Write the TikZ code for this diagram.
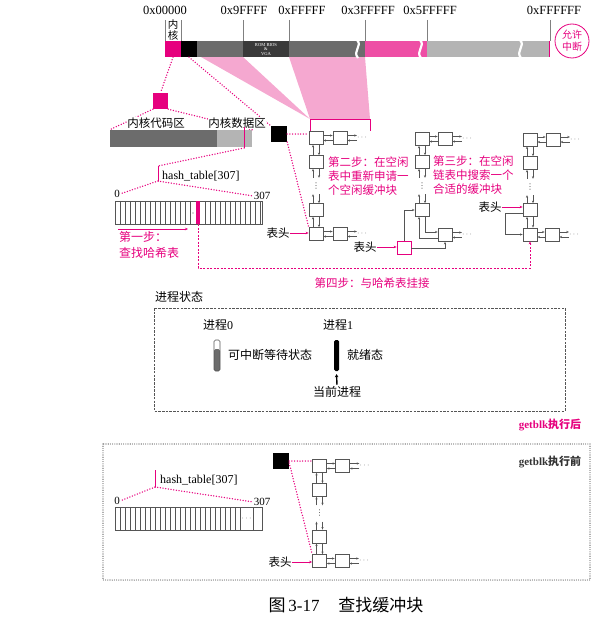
\documentclass[tikz,border=0pt]{standalone}
\usepackage{fontspec}
\setmainfont{Liberation Serif}
\newfontfamily\cjk{Noto Sans CJK SC}
\newfontfamily\symf{DejaVu Sans}
\usetikzlibrary{arrows.meta}
\definecolor{mag}{RGB}{230,0,126}
\definecolor{magmid}{RGB}{238,78,165}
\definecolor{fanpink}{RGB}{245,168,208}
\definecolor{bardark}{RGB}{108,108,108}
\definecolor{barrom}{RGB}{58,58,58}
\definecolor{barlight}{RGB}{180,180,180}
\definecolor{linkgray}{RGB}{85,85,85}
\begin{document}
\begin{tikzpicture}[x=1pt,y=-1pt,
  buf/.style={draw=linkgray, fill=white, line width=0.7pt, minimum width=14pt, minimum height=13pt, inner sep=0pt},
  hbuf/.style={buf, draw=mag},
  lnk/.style={draw=linkgray, line width=0.6pt, -{Stealth[length=2.6pt,width=2.2pt]}},
  dotsh/.style={inner sep=0pt, minimum width=9pt, text=linkgray, font=\fontsize{8}{8}\selectfont},
  dotsv/.style={inner sep=0pt, minimum height=16pt, text=linkgray, font=\fontsize{8}{8}\selectfont\symf},
  lbl/.style={inner sep=0pt, font=\fontsize{11.5}{14}\selectfont\cjk},
  latin/.style={inner sep=0pt, font=\fontsize{12}{14}\selectfont},
  stepnote/.style={inner sep=0pt, align=left, text=mag, font=\fontsize{11.5}{14}\selectfont\cjk},
  pinkdot/.style={draw=mag, line width=1.5pt, dash pattern=on 0pt off 2.7pt, line cap=round},
  pinkdash/.style={draw=mag, line width=0.8pt, dash pattern=on 2pt off 1.5pt},
  magline/.style={draw=mag, line width=1pt},
  headarr/.style={draw=mag, line width=0.8pt, -{Stealth[length=3pt,width=2.5pt]}},
  barseg/.style={inner sep=0pt, minimum height=16pt}]
\useasboundingbox (0,0) rectangle (614,618);

% memory map
\fill[fanpink] (201,57) -- (243,57) -- (310,119) -- cycle;
\fill[fanpink] (289,57) -- (365,57) -- (370,119) -- (310,119) -- cycle;
\draw[mag, line width=0.9pt] (310,131) -- (310,119) -- (370,119) -- (370,131);
\node[barseg, fill=mag, minimum width=16pt] (kcodebar) at (173,49) {};
\node[barseg, fill=black, minimum width=16pt] (kdatabar) at (189,49) {};
\fill[bardark] (197,41) rectangle (243,57);
\fill[barrom] (243,41) rectangle (289,57);
\fill[bardark] (289,41) rectangle (365,57);
\fill[magmid] (365,41) rectangle (427,57);
\fill[barlight] (427,41) rectangle (550,57);
\draw[mag, line width=0.8pt] (549.5,41) -- (549.5,57);
\foreach \x in {357,420,520}
  \draw[white, line width=2.2pt] (\x,40) .. controls (\x+6,46) and (\x-5,51) .. (\x+1,58);
\node[text=white, align=center, inner sep=0pt, font=\fontsize{4.6}{4.4}\selectfont] at (266,49.5) {ROM BIOS\\\&\\VGA};
\foreach \x in {165,181,243,289,365,427,550}
  \draw[gray, line width=0.4pt] (\x,20) -- (\x,41);
\node[latin, font=\fontsize{12.5}{14}\selectfont] at (165,10) {0x00000};
\node[latin, font=\fontsize{12.5}{14}\selectfont] at (244,10) {0x9FFFF};
\node[latin, font=\fontsize{12.5}{14}\selectfont] at (302,10) {0xFFFFF};
\node[latin, font=\fontsize{12.5}{14}\selectfont] at (368,10) {0x3FFFFF};
\node[latin, font=\fontsize{12.5}{14}\selectfont] at (430,10) {0x5FFFFF};
\node[latin, font=\fontsize{12.5}{14}\selectfont] at (554,10) {0xFFFFFF};
\node[lbl, font=\fontsize{10.5}{11}\selectfont\cjk, align=center] at (173,30) {内\\核};
\node[circle, draw=mag, line width=0.8pt, minimum size=34pt, inner sep=0pt, align=center, text=mag,
  font=\fontsize{10}{12}\selectfont\cjk] (intr) at (572,41) {允许\\中断};

% kernel area
\node[fill=mag, minimum width=15pt, minimum height=16pt, inner sep=0pt] (kcode) at (160.5,101) {};
\node[fill=black, minimum size=16pt, inner sep=0pt] (blk) at (279,134) {};
\node[fill=bardark, minimum width=107pt, minimum height=17pt, inner sep=0pt] (kcodearea) at (163.5,138.5) {};
\node[fill=barlight, minimum width=35pt, minimum height=17pt, inner sep=0pt] (kdataarea) at (234.5,138.5) {};
\draw[pinkdot] (kcodebar.south) -- (kcode.north);
\draw[pinkdot] (kdatabar.south) -- (blk.north west);
\draw[pinkdot] (kcode.south west) -- (kcodearea.north west);
\draw[pinkdot] (kcode.south east) -- (kdataarea.north east);
\node[lbl, fill=white, inner sep=0.5pt] at (156,123) {内核代码区};
\node[lbl, fill=white, inner sep=0.5pt] at (237,123) {内核数据区};
\coordinate (kmark) at (244,148);
\draw[magline] (244,127) -- (kmark);

% hash table
\coordinate (hmtop) at (158,166);
\coordinate (hmbot) at (158,181);
\draw[pinkdot] (kmark) -- (hmtop);
\draw[magline] (hmtop) -- (hmbot);
\node[latin, anchor=west] (hname) at (162,176) {hash\_table[307]};
\node[latin, font=\fontsize{11}{13}\selectfont] (lab0) at (117,194) {0};
\node[latin, font=\fontsize{11}{13}\selectfont] (lab307) at (262,196) {307};
\draw[pinkdot] (hmbot) -- (lab0.east);
\draw[pinkdot] (hmbot) -- (lab307.west);
\node[draw=linkgray, line width=0.6pt, minimum width=147pt, minimum height=23pt, inner sep=0pt] (harr) at (188.5,212.5) {};
\foreach \x in {120,125,...,190,205,210,...,260}
  \draw[linkgray, line width=0.5pt] (\x,201) -- (\x,224);
\fill[linkgray] (193,213) circle (0.6);
\node[fill=mag, minimum width=4pt, minimum height=23pt, inner sep=0pt] (hsel) at (198,212.5) {};
\coordinate (s1a) at (118,229);
\coordinate (s1b) at (188,229);
\draw[headarr] (s1a) -- (s1b);
\node[stepnote, font=\fontsize{12}{16}\selectfont\cjk, anchor=west] at (119,245) {第一步：\\查找哈希表};

% list of step two
\node[buf] (l1a) at (316,138) {};
\node[buf] (l1b) at (340,138) {};
\node[dotsh] (l1bx) at (362,138) {$\cdots$};
\node[buf] (l1c) at (316,162) {};
\node[dotsv] (l1v) at (316,186) {⋮};
\node[buf] (l1d) at (316,210) {};
\node[buf] (l1e) at (316,234) {};
\node[buf] (l1f) at (340,234) {};
\node[dotsh] (l1fx) at (362,234) {$\cdots$};
\node[lbl] (l1head) at (278,233) {表头};
\draw[pinkdot] (blk.east) -- (blk.east -| l1a.west);
\draw[pinkdot] (blk.south east) -- (l1e.north west);
\draw[headarr] (l1head) -- (l1head -| l1e.west);
\node[stepnote, anchor=west] at (328,176) {第二步：在空闲\\表中重新申请一\\个空闲缓冲块};

% list of step three
\node[buf] (l2g) at (422,139) {};
\node[buf] (l2h) at (445,139) {};
\node[dotsh] (l2hx) at (467,139) {$\cdots$};
\node[buf] (l2i) at (422,162) {};
\node[dotsv] (l2v) at (422,186) {⋮};
\node[buf] (l2j) at (422,210) {};
\node[buf] (l2k) at (445,235) {};
\node[dotsh] (l2kx) at (467,235) {$\cdots$};
\node[hbuf] (l2l) at (404,248) {};
\node[lbl] (l2head) at (365,247) {表头};
\draw[headarr] (l2head) -- (l2head -| l2l.west);
\draw[lnk] (l2l.north) |- (l2j.west);
\draw[lnk] ([xshift=3pt]l2j.south) |- ([yshift=3pt]l2k.west);
\draw[lnk] ([yshift=-3pt]l2k.west) -| ([xshift=-3pt]l2j.south);
\draw[lnk] (l2l.east) -| (l2k.south);
\node[stepnote, anchor=west] at (433,175) {第三步：在空闲\\链表中搜索一个\\合适的缓冲块};

% list after step three
\node[buf] (l3m) at (530,139.5) {};
\node[buf] (l3n) at (553,139.5) {};
\node[dotsh] (l3nx) at (575,139.5) {$\cdots$};
\node[buf] (l3o) at (530,163) {};
\node[dotsv] (l3v) at (530,187) {⋮};
\node[buf] (l3p) at (530,210) {};
\node[buf] (l3q) at (530,234.5) {};
\node[buf] (l3r) at (552,234.5) {};
\node[dotsh] (l3rx) at (574,234.5) {$\cdots$};
\node[lbl] (l3head) at (490,207) {表头};
\draw[headarr] (l3head.east) -- (l3head.east -| l3p.west);
\draw[lnk] ([yshift=-3pt]l3p.west) -- ++(-17,0) |- (l3q.west);

% step four
\draw[pinkdash, -{Stealth[length=3pt,width=2.5pt]}] (hsel.south) -- ++(0,44) -| (l3q.south);
\node[stepnote] at (372,283) {第四步：与哈希表挂接};

% process state
\node[lbl, font=\fontsize{12}{14}\selectfont\cjk] at (179,297) {进程状态};
\draw[linkgray, line width=0.7pt, dash pattern=on 2.5pt off 1.2pt] (154,308) rectangle (565,411);
\node[latin] (p0) at (218,325) {{\cjk 进程}0};
\node[latin] (p1) at (338,325) {{\cjk 进程}1};
\fill[bardark, rounded corners=1.5pt] (214,349) rectangle (220,371);
\node[draw=linkgray, line width=0.6pt, rounded corners=1.5pt, minimum width=6pt, minimum height=31pt, inner sep=0pt] (p0bar) at (217,355.5) {};
\node[fill=black, rounded corners=1.5pt, minimum width=5pt, minimum height=31pt, inner sep=0pt] (p1bar) at (336.5,355.5) {};
\node[lbl, font=\fontsize{12}{14}\selectfont\cjk, anchor=west] at (228,355) {可中断等待状态};
\node[lbl, font=\fontsize{12}{14}\selectfont\cjk, anchor=west] at (347,355) {就绪态};
\node[lbl, font=\fontsize{12}{14}\selectfont\cjk] (curr) at (337,392) {当前进程};
\draw[line width=1.4pt, -{Stealth[length=3pt,width=3.6pt]}] ([yshift=1.5pt]curr.north) -- ([yshift=-3pt]p1bar.south);
\node[inner sep=0pt, text=mag, font=\bfseries\fontsize{11}{13}\selectfont] at (550,425) {getblk{\cjk 执行后}};

% before getblk
\draw[black!75, line width=1.1pt, dash pattern=on 0pt off 2.2pt, line cap=round] (103,444) rectangle (590,580);
\node[inner sep=0pt, text=black!80, font=\bfseries\fontsize{11}{13}\selectfont] at (550,462) {getblk{\cjk 执行前}};
\coordinate (hbtop) at (155,470);
\coordinate (hbbot) at (155,487);
\draw[magline] (hbtop) -- (hbbot);
\node[latin, anchor=west] (hnameb) at (160,480) {hash\_table[307]};
\node[latin, font=\fontsize{11}{13}\selectfont] (lab0b) at (117,501) {0};
\node[latin, font=\fontsize{11}{13}\selectfont] (lab307b) at (262,502) {307};
\draw[pinkdot] (hbbot) -- (lab0b.east);
\draw[pinkdot] (hbbot) -- (lab307b.west);
\node[draw=linkgray, line width=0.6pt, minimum width=147pt, minimum height=23pt, inner sep=0pt] (harrb) at (188.5,518.5) {};
\foreach \x in {120,125,...,240,253}
  \draw[linkgray, line width=0.5pt] (\x,507) -- (\x,530);
\node[dotsh] at (246.5,519) {$\cdots$};
\node[fill=black, minimum size=16pt, inner sep=0pt] (blkb) at (281,461) {};
\node[buf] (l4a) at (319.5,466) {};
\node[buf] (l4b) at (342.5,466) {};
\node[dotsh] (l4bx) at (364.5,466) {$\cdots$};
\node[buf] (l4c) at (319.5,490) {};
\node[dotsv] (l4v) at (319.5,513.5) {⋮};
\node[buf] (l4d) at (319.5,536.5) {};
\node[buf] (l4e) at (319.5,561) {};
\node[buf] (l4f) at (342,561) {};
\node[dotsh] (l4fx) at (364,561) {$\cdots$};
\node[lbl] (l4head) at (280,562) {表头};
\draw[pinkdot] (blkb.east) -- (blkb.east -| l4a.west);
\draw[pinkdot] ([yshift=-2pt]blkb.east) -- (l4e.north west);
\draw[headarr] (l4head) -- (l4head -| l4e.west);

% links of all lists
\foreach \u/\v in {l1a/l1b,l1b/l1bx,l1e/l1f,l1f/l1fx,l2g/l2h,l2h/l2hx,l2k/l2kx,l3m/l3n,l3n/l3nx,l3q/l3r,l3r/l3rx,l4a/l4b,l4b/l4bx,l4e/l4f,l4f/l4fx}{
  \draw[lnk] ([yshift=2.5pt]\u.east) -- ([yshift=2.5pt]\v.west);
  \draw[lnk] ([yshift=-2.5pt]\v.west) -- ([yshift=-2.5pt]\u.east);
}
\foreach \u/\v in {l1a/l1c,l1c/l1v,l1v/l1d,l1d/l1e,l2g/l2i,l2i/l2v,l2v/l2j,l3m/l3o,l3o/l3v,l3v/l3p,l3p/l3q,l4a/l4c,l4c/l4v,l4v/l4d,l4d/l4e}{
  \draw[lnk] ([xshift=-3pt]\v.north) -- ([xshift=-3pt]\u.south);
  \draw[lnk] ([xshift=3pt]\u.south) -- ([xshift=3pt]\v.north);
}

% caption
\node[inner sep=0pt, font=\fontsize{17}{19}\selectfont] at (346,605) {{\cjk 图}\,3-17\hspace{1.1em}{\cjk 查找缓冲块}};
\end{tikzpicture}
\end{document}
